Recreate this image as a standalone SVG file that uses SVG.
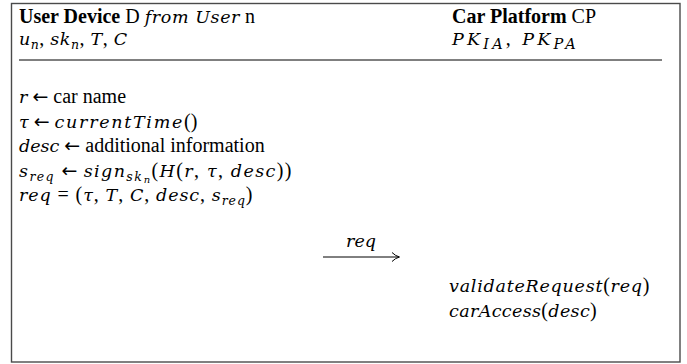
<svg xmlns="http://www.w3.org/2000/svg" width="687" height="364" viewBox="0 0 687 364">
<style>
text{font-family:"Liberation Serif","Times New Roman",serif;font-size:20px;fill:#000}
.b{font-weight:bold}
.m{font-family:"DejaVu Serif",serif;font-style:italic;font-size:17.5px}
.s{font-family:"DejaVu Serif",serif;font-size:12.5px;font-style:italic}
.ss{font-family:"DejaVu Serif",serif;font-size:10px;font-style:italic}
.r{font-family:"Liberation Serif",serif;font-style:normal;font-size:20px}
.a{font-family:"DejaVu Sans",sans-serif;font-style:normal;font-size:19px;letter-spacing:0}
</style>
<defs>
<marker id="ah" markerWidth="12" markerHeight="12" refX="9" refY="6" orient="auto" markerUnits="userSpaceOnUse">
<path d="M2,1.5 Q5.5,5 9.5,6 Q5.5,7 2,10.5" fill="none" stroke="#000" stroke-width="1"/>
</marker>
</defs>
<rect x="11.5" y="3.5" width="668.5" height="358.5" fill="#fff" stroke="#4a4a4a" stroke-width="1.4"/>
<g id="user-device">
<text x="19" y="23"><tspan class="b">User Device</tspan> D <tspan class="m" style="letter-spacing:0.6px">from User</tspan> n</text>
<text x="19" y="45" class="m" style="letter-spacing:0.5px">u<tspan class="s" dy="4">n</tspan><tspan class="r" dy="-4">, </tspan>sk<tspan class="s" dy="4">n</tspan><tspan class="r" dy="-4">, </tspan>T<tspan class="r">, </tspan>C</text>
<text x="19" y="103"><tspan class="m">r</tspan> <tspan class="a">←</tspan> car name</text>
<text x="19" y="128"><tspan class="m">τ</tspan> <tspan class="a">←</tspan> <tspan class="m" style="letter-spacing:1.7px">currentTime</tspan>()</text>
<text x="19" y="152"><tspan class="m">desc</tspan> <tspan class="a">←</tspan> additional information</text>
<text x="19" y="177" class="m" style="letter-spacing:1.4px">s<tspan class="s" dy="4">req</tspan><tspan class="r" dy="-4"> </tspan><tspan class="a">←</tspan><tspan class="r"> </tspan>sign<tspan class="s" dy="4">sk</tspan><tspan class="ss" dy="2" dx="0.5">n</tspan><tspan class="r" dy="-6">(</tspan>H<tspan class="r">(</tspan>r<tspan class="r">, </tspan>τ<tspan class="r">, </tspan>desc<tspan class="r">))</tspan></text>
<text x="19" y="201" class="m" style="letter-spacing:0.9px">req<tspan class="r"> = (</tspan>τ<tspan class="r">, </tspan>T<tspan class="r">, </tspan>C<tspan class="r">, </tspan>desc<tspan class="r">, </tspan>s<tspan class="s" dy="4">req</tspan><tspan class="r" dy="-4">)</tspan></text>
</g>
<g id="car-platform">
<text x="452" y="23"><tspan class="b">Car Platform</tspan> CP</text>
<text x="452" y="45" class="m" style="letter-spacing:3.2px">PK<tspan class="s" dy="4" style="font-size:14.5px">IA</tspan><tspan class="r" dy="-4">, </tspan>PK<tspan class="s" dy="4" style="font-size:14.5px">PA</tspan></text>
<text x="449" y="292" class="m" style="letter-spacing:0.75px">validateRequest<tspan class="r">(</tspan>req<tspan class="r">)</tspan></text>
<text x="449" y="317" class="m" style="letter-spacing:0.35px">carAccess<tspan class="r">(</tspan>desc<tspan class="r">)</tspan></text>
</g>
<g id="connectors">
<line x1="19" y1="60" x2="662" y2="60" stroke="#000" stroke-width="1"/>
<text x="361" y="247" class="m" text-anchor="middle">req</text>
<line x1="323" y1="257" x2="399" y2="257" stroke="#000" stroke-width="1" marker-end="url(#ah)"/>
</g>
</svg>
